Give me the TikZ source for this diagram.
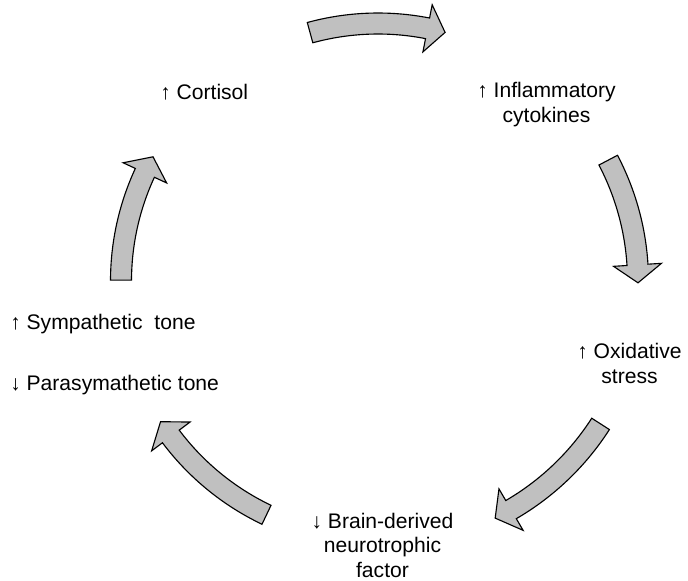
\documentclass[tikz,border=0pt]{standalone}
\usepackage{fontspec}
\setmainfont{Liberation Sans}
\usetikzlibrary{calc}

\definecolor{arrowgray}{RGB}{192,192,192}

% curved block arrow round (ctr): tail angle, tip angle, radius
\newcommand{\bendarrow}[3]{%
  \pgfmathsetmacro{\hb}{#2+sign(#1-#2)*18/(#3)*180/pi}
  \begin{scope}[shift={(ctr)}]
    \draw[cyclearrow] ({#1}:{#3+10.5}) arc[start angle=#1, end angle=\hb, radius=#3+10.5]
      -- ({\hb}:{#3+24}) -- ({#2}:{#3}) -- ({\hb}:{#3-24}) -- ({\hb}:{#3-10.5})
      arc[start angle=\hb, end angle=#1, radius=#3-10.5] -- cycle;
  \end{scope}}

\begin{document}
\begin{tikzpicture}[x=0.025cm, y=0.025cm, font=\fontsize{15}{17.4}\selectfont,
    txt/.style = {inner sep=0pt, align=center},
    cyclearrow/.style = {draw, fill=arrowgray, line width=0.8pt, line join=miter}]
    \useasboundingbox (0,0) rectangle (688,-580);
    \coordinate (ctr) at (378,-281);
    \node[txt, anchor=base west] (cort) at (160,-99) {↑ Cortisol};
    \node[txt, anchor=base] (infl) at (546.5,-122) {↑ Inflammatory\\cytokines};
    \node[txt, anchor=base] (oxid) at (629.5,-383) {↑ Oxidative\\stress};
    \node[txt, anchor=base] (bdnf) at (382.5,-577) {↓ Brain-derived\\neurotrophic\\factor};
    \node[txt, anchor=base west] (symp) at (10,-329) {↑ Sympathetic~ tone};
    \node[txt, anchor=base west] (para) at (10,-390) {↓ Parasymathetic tone};
    \bendarrow{105.3}{74.9}{257.5}
    \bendarrow{27.7}{-0.4}{260}
    \bendarrow{-32.7}{-63.7}{264.5}
    \bendarrow{244.5}{212.9}{259}
    \bendarrow{179.8}{151.1}{257}
\end{tikzpicture}
\end{document}
